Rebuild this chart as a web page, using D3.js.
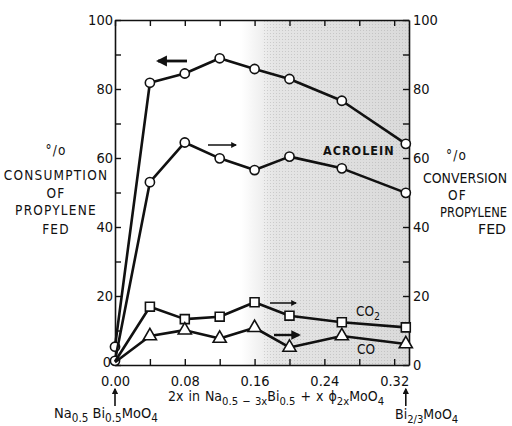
<!DOCTYPE html>
<html>
<head>
<meta charset="utf-8">
<script src="https://cdn.jsdelivr.net/npm/d3@7"></script>
<style>
  body { margin: 0; background: #fff; }
  svg text { font-family: "DejaVu Sans Condensed", "Liberation Sans Narrow", sans-serif; fill: #111; }
</style>
</head>
<body>
<div id="root"></div>
<script>
// data
const compositions = [0.00, 0.04, 0.08, 0.12, 0.16, 0.20, 0.26, 1 / 3];
const consumption = [5.3, 81.8, 84.5, 88.9, 85.8, 82.9, 76.6, 64.1];
const acrolein = [1.2, 53.0, 64.5, 59.9, 56.5, 60.4, 57.0, 49.9];
const co2 = [1.0, 16.9, 13.3, 14.0, 18.2, 14.3, 12.4, 10.9];
const co = [0.8, 8.4, 10.1, 7.7, 10.8, 5.1, 8.4, 6.1];
const yTicks = [0, 10, 20, 30, 40, 50, 60, 70, 80, 90, 100];
const xTicks = [0, 0.04, 0.08, 0.12, 0.16, 0.20, 0.24, 0.28, 0.32];
const xLabels = [0, 0.08, 0.16, 0.24, 0.32];

const width = 512, height = 426;
const plotLeft = 115, plotRight = 409, plotTop = 20, plotBottom = 365;

const svg = d3.select('#root').append('svg')
  .attr('width', width)
  .attr('height', height)
  .attr('viewBox', [0, 0, width, height]);

const x = d3.scaleLinear().domain([0, 0.337]).range([plotLeft, plotRight]);
const y = d3.scaleLinear().domain([0, 100]).range([plotBottom, plotTop]);

// stippled background on the Bi-rich side
const defs = svg.append('defs');
const grad = defs.append('linearGradient').attr('id', 'shade');
grad.append('stop').attr('offset', '0%').attr('stop-color', '#e0e0e0').attr('stop-opacity', 0);
grad.append('stop').attr('offset', '20%').attr('stop-color', '#e0e0e0').attr('stop-opacity', 0.85);
grad.append('stop').attr('offset', '100%').attr('stop-color', '#dadada').attr('stop-opacity', 1);
const dots = defs.append('pattern').attr('id', 'dots')
  .attr('width', 3).attr('height', 3).attr('patternUnits', 'userSpaceOnUse');
dots.append('rect').attr('width', 1).attr('height', 1).attr('fill', '#8a8a8a');

svg.append('rect')
  .attr('x', x(0.145)).attr('y', plotTop)
  .attr('width', plotRight - x(0.145)).attr('height', plotBottom - plotTop)
  .attr('fill', 'url(#shade)');
svg.append('rect')
  .attr('x', x(0.17)).attr('y', plotTop)
  .attr('width', plotRight - x(0.17)).attr('height', plotBottom - plotTop)
  .attr('fill', 'url(#dots)').attr('opacity', 0.3);

// axes, ticks pointing inward
function styleAxis(g) {
  g.select('.domain').attr('stroke', '#111').attr('stroke-width', 1.6);
  g.selectAll('.tick line').attr('stroke', '#111').attr('stroke-width', 1.4);
  g.selectAll('.tick text').attr('font-size', 14.5).attr('fill', '#111');
}
const yFmt = d => (d % 20 === 0 ? d : '');

svg.append('g').attr('transform', `translate(${plotLeft},0)`)
  .call(d3.axisLeft(y).tickValues(yTicks).tickFormat(yFmt).tickSizeInner(-6).tickSizeOuter(0).tickPadding(3))
  .call(styleAxis)
  .call(g => g.selectAll('.tick text').attr('x', -2))
  .call(g => g.selectAll('.tick').filter(d => d === 0).select('text').attr('x', -4).attr('dy', '0.1em'));

svg.append('g').attr('transform', `translate(${plotRight},0)`)
  .call(d3.axisRight(y).tickValues(yTicks).tickFormat(yFmt).tickSizeInner(-6).tickSizeOuter(0).tickPadding(3))
  .call(styleAxis)
  .call(g => g.selectAll('.tick text').attr('x', 4));

svg.append('g').attr('transform', `translate(0,${plotBottom})`)
  .call(d3.axisBottom(x).tickValues(xTicks)
    .tickFormat(d => (xLabels.some(v => Math.abs(v - d) < 1e-9) ? d3.format('.2f')(d) : ''))
    .tickSizeInner(-6).tickSizeOuter(0).tickPadding(11))
  .call(styleAxis);

svg.append('g').attr('transform', `translate(0,${plotTop})`)
  .call(d3.axisTop(x).tickValues(xTicks).tickFormat('').tickSizeInner(-6).tickSizeOuter(0))
  .call(styleAxis);

// series
const series = [
  { name: 'consumption', values: consumption, marker: 'circle', first: true },
  { name: 'acrolein', values: acrolein, marker: 'circle', first: true },
  { name: 'co2', values: co2, marker: 'square', first: false },
  { name: 'co', values: co, marker: 'triangle', first: false }
];

const line = d3.line().x(d => x(d[0])).y(d => y(d[1]));

series.forEach(s => {
  const pts = compositions.map((c, i) => [c, s.values[i]]);
  svg.append('path')
    .datum(pts)
    .attr('fill', 'none')
    .attr('stroke', '#111')
    .attr('stroke-width', 2.6)
    .attr('stroke-linejoin', 'round')
    .attr('d', line);

  const markPts = s.first ? pts : pts.slice(1);
  const g = svg.append('g');
  if (s.marker === 'circle') {
    g.selectAll('circle').data(markPts).join('circle')
      .attr('cx', d => x(d[0])).attr('cy', d => y(d[1])).attr('r', 4.6)
      .attr('fill', '#fff').attr('stroke', '#111').attr('stroke-width', 1.6);
  } else {
    const sym = s.marker === 'square' ? d3.symbolSquare : d3.symbolTriangle;
    const size = s.marker === 'square' ? 80 : 75;
    g.selectAll('path').data(markPts).join('path')
      .attr('transform', d => `translate(${x(d[0])},${y(d[1])})`)
      .attr('d', d3.symbol(sym, size))
      .attr('fill', '#fff').attr('stroke', '#111').attr('stroke-width', 1.6);
  }
});

// direction arrows
defs.append('marker').attr('id', 'head')
  .attr('viewBox', '0 0 10 10').attr('refX', 8).attr('refY', 5)
  .attr('markerWidth', 4).attr('markerHeight', 4).attr('orient', 'auto')
  .append('path').attr('d', 'M0,0 L10,5 L0,10 Z').attr('fill', '#111');

const arrows = [
  { x1: 187, x2: 158, y: 61, w: 2.8 },
  { x1: 208, x2: 236, y: 145, w: 1.5 },
  { x1: 270, x2: 296, y: 303, w: 1.5 },
  { x1: 274, x2: 299, y: 335, w: 2.4 }
];
arrows.forEach(a => {
  svg.append('line')
    .attr('x1', a.x1).attr('x2', a.x2).attr('y1', a.y).attr('y2', a.y)
    .attr('stroke', '#111').attr('stroke-width', a.w)
    .attr('marker-end', 'url(#head)');
});

// series labels
svg.append('text').attr('x', 323).attr('y', 155).attr('font-size', 12.5)
  .attr('font-weight', 600).attr('letter-spacing', 1).text('ACROLEIN');
const co2Label = svg.append('text').attr('x', 356).attr('y', 316).attr('font-size', 13.5);
co2Label.append('tspan').text('CO');
co2Label.append('tspan').attr('dy', 4).attr('font-size', 10.5).text('2');
svg.append('text').attr('x', 357).attr('y', 354).attr('font-size', 13.5).text('CO');

// axis titles
const leftTitle = ['°/o', 'CONSUMPTION', 'OF', 'PROPYLENE', 'FED'];
const leftTitleY = [155, 180, 198, 215, 234];
leftTitle.forEach((t, i) => {
  svg.append('text').attr('x', 56).attr('y', leftTitleY[i])
    .attr('text-anchor', 'middle').attr('font-size', 13.5)
    .attr('letter-spacing', 1.2).text(t);
});

const rightTitle = ['°/o', 'CONVERSION', 'OF', 'PROPYLENE', 'FED'];
const rightTitleX = [446, 423, 448, 440, 478];
const rightTitleY = [160, 183, 200, 217, 234];
const rightTitleLen = [null, 84, null, 67, 28];
rightTitle.forEach((t, i) => {
  const txt = svg.append('text').attr('x', rightTitleX[i]).attr('y', rightTitleY[i])
    .attr('font-size', 13.5).text(t);
  if (rightTitleLen[i]) txt.attr('textLength', rightTitleLen[i]).attr('lengthAdjust', 'spacingAndGlyphs');
  else txt.attr('letter-spacing', 1.2);
});

// x axis title with subscripts
function chem(parent, parts, size) {
  parts.forEach(p => {
    const sub = p.sub === true;
    parent.append('tspan')
      .attr('dy', p.dy || 0)
      .attr('font-size', sub ? size * 0.8 : size)
      .text(p.t);
  });
}
const xTitle = svg.append('text').attr('x', 168).attr('y', 401).attr('word-spacing', 1);
chem(xTitle, [
  { t: '2x  in  Na' }, { t: '0.5 \u2212 3x', sub: true, dy: 4 }, { t: 'Bi', dy: -4 },
  { t: '0.5', sub: true, dy: 4 }, { t: ' + x ', dy: -4 }, { t: '\u03d5' },
  { t: '2x', sub: true, dy: 4 }, { t: 'MoO', dy: -4 }, { t: '4', sub: true, dy: 4 }
], 14);

const leftEnd = svg.append('text').attr('x', 54).attr('y', 418);
chem(leftEnd, [
  { t: 'Na' }, { t: '0.5', sub: true, dy: 4 }, { t: ' Bi', dy: -4 },
  { t: '0.5', sub: true, dy: 4 }, { t: 'MoO', dy: -4 }, { t: '4', sub: true, dy: 4 }
], 14.5);

const rightEnd = svg.append('text').attr('x', 395).attr('y', 419);
chem(rightEnd, [
  { t: 'Bi' }, { t: '2/3', sub: true, dy: 4 }, { t: 'MoO', dy: -4 }, { t: '4', sub: true, dy: 4 }
], 14);

// end-member arrows
[0, 1 / 3].forEach(c => {
  svg.append('line')
    .attr('x1', x(c)).attr('x2', x(c)).attr('y1', 406).attr('y2', 389)
    .attr('stroke', '#111').attr('stroke-width', 1.6)
    .attr('marker-end', 'url(#head)');
});
</script>
</body>
</html>
